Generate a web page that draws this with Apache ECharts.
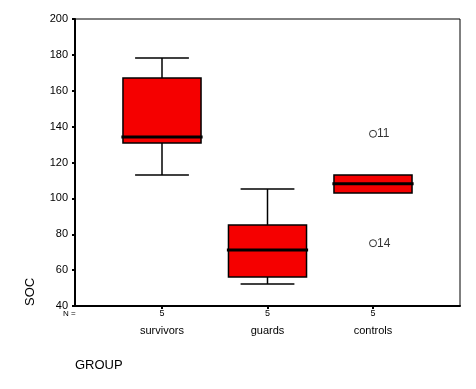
<!DOCTYPE html>
<html><head><meta charset="utf-8">
<script src="https://cdn.jsdelivr.net/npm/echarts@6/dist/echarts.min.js"></script>
<style>html,body{margin:0;padding:0;background:#fff}#c{width:476px;height:389px}</style>
</head><body><div id="c"></div>
<script>
const categories = ['survivors', 'guards', 'controls'];
const nCounts = [5, 5, 5];
const whiskerLow = [113, 52.3, 103];
const q1 = [130.9, 56.2, 103];
const medians = [134.2, 71.2, 108.2];
const q3 = [167.1, 85.2, 113];
const whiskerHigh = [178.3, 105.2, 113];
const outlierCat = [2, 2];
const outlierVal = [136, 75];
const outlierLabel = ['11', '14'];
const yTicks = [40, 60, 80, 100, 120, 140, 160, 180, 200];

const FONT = 'Liberation Sans, Arial, sans-serif';
const boxData = categories.map((c, i) => [i, whiskerLow[i], q1[i], medians[i], q3[i], whiskerHigh[i]]);
const outData = outlierVal.map((v, i) => ({ value: [outlierCat[i], v], label: { formatter: outlierLabel[i] } }));

const chart = echarts.init(document.getElementById('c'), null, { renderer: 'canvas' });
chart.setOption({
  animation: false,
  backgroundColor: '#fff',
  textStyle: { fontFamily: FONT },
  grid: [
    { left: 75, right: 16, top: 19, bottom: 83, show: true, borderColor: '#000', borderWidth: 1, backgroundColor: 'transparent' },
    { left: 109.25, right: 50.25, top: 19, bottom: 83 }
  ],
  xAxis: [
    { gridIndex: 0, type: 'value', min: 0, max: 1, axisLine: { show: true, lineStyle: { color: '#000', width: 2 } }, axisTick: { show: false }, axisLabel: { show: false }, splitLine: { show: false } },
    { gridIndex: 1, type: 'category', data: categories, boundaryGap: true,
      axisLine: { show: false },
      axisTick: { show: true, alignWithLabel: true, length: 3, lineStyle: { color: '#000', width: 2 } },
      axisLabel: { margin: 2, color: '#000', fontFamily: FONT,
        formatter: (v, i) => '{n|' + nCounts[i] + '}\n{c|' + v + '}',
        rich: { n: { fontSize: 9, fontFamily: FONT, color: '#000', lineHeight: 12 }, c: { fontSize: 11, fontFamily: FONT, color: '#000', lineHeight: 22 } } },
      splitLine: { show: false } }
  ],
  yAxis: [
    { gridIndex: 0, type: 'value', min: yTicks[0], max: yTicks[yTicks.length - 1], interval: 20,
      axisLine: { show: true, lineStyle: { color: '#000', width: 2 } },
      axisTick: { show: true, length: 3, lineStyle: { color: '#000', width: 2 } },
      axisLabel: { color: '#000', fontSize: 11, fontFamily: FONT, margin: 7 },
      splitLine: { show: false } },
    { gridIndex: 1, type: 'value', min: yTicks[0], max: yTicks[yTicks.length - 1], show: false, splitLine: { show: false } }
  ],
  graphic: [
    { type: 'text', left: 63, top: 310, style: { text: 'N =', fontSize: 8, fontFamily: FONT, fill: '#000' } },
    { type: 'text', left: 75, top: 359, style: { text: 'GROUP', fontSize: 13, fontFamily: FONT, fill: '#000' } },
    { type: 'text', x: 24, y: 306, rotation: Math.PI / 2, style: { text: 'SOC', fontSize: 13, fontFamily: FONT, fill: '#000', align: 'left', verticalAlign: 'top' } }
  ],
  series: [
    { type: 'custom', xAxisIndex: 1, yAxisIndex: 1, data: boxData, encode: { x: 0, y: [1, 2, 3, 4, 5] },
      renderItem: function (params, api) {
        const x = api.value(0);
        const bw = api.size([1, 0])[0];
        const pLo = api.coord([x, api.value(1)]);
        const pQ1 = api.coord([x, api.value(2)]);
        const pMed = api.coord([x, api.value(3)]);
        const pQ3 = api.coord([x, api.value(4)]);
        const pHi = api.coord([x, api.value(5)]);
        const cx = pMed[0];
        const boxW = bw * 0.74, capW = bw * 0.51, medW = bw * 0.77;
        const ls = { stroke: '#000', lineWidth: 1.5 };
        const children = [];
        if (pHi[1] < pQ3[1] - 0.5) {
          children.push({ type: 'line', shape: { x1: cx, y1: pHi[1], x2: cx, y2: pQ3[1] }, style: ls });
          children.push({ type: 'line', shape: { x1: cx - capW / 2, y1: pHi[1], x2: cx + capW / 2, y2: pHi[1] }, style: ls });
        }
        if (pLo[1] > pQ1[1] + 0.5) {
          children.push({ type: 'line', shape: { x1: cx, y1: pQ1[1], x2: cx, y2: pLo[1] }, style: ls });
          children.push({ type: 'line', shape: { x1: cx - capW / 2, y1: pLo[1], x2: cx + capW / 2, y2: pLo[1] }, style: ls });
        }
        children.push({ type: 'rect', shape: { x: cx - boxW / 2, y: pQ3[1], width: boxW, height: pQ1[1] - pQ3[1] }, style: { fill: '#f50000', stroke: '#000', lineWidth: 1.5 } });
        children.push({ type: 'line', shape: { x1: cx - medW / 2, y1: pMed[1], x2: cx + medW / 2, y2: pMed[1] }, style: { stroke: '#000', lineWidth: 3 } });
        return { type: 'group', children: children };
      }
    },
    { type: 'scatter', xAxisIndex: 1, yAxisIndex: 1, data: outData, symbol: 'circle', symbolSize: 7,
      itemStyle: { color: '#fff', borderColor: '#000', borderWidth: 1 },
      label: { show: true, position: 'right', distance: 0, color: '#000', fontSize: 12, fontFamily: FONT } }
  ]
});
</script></body></html>
